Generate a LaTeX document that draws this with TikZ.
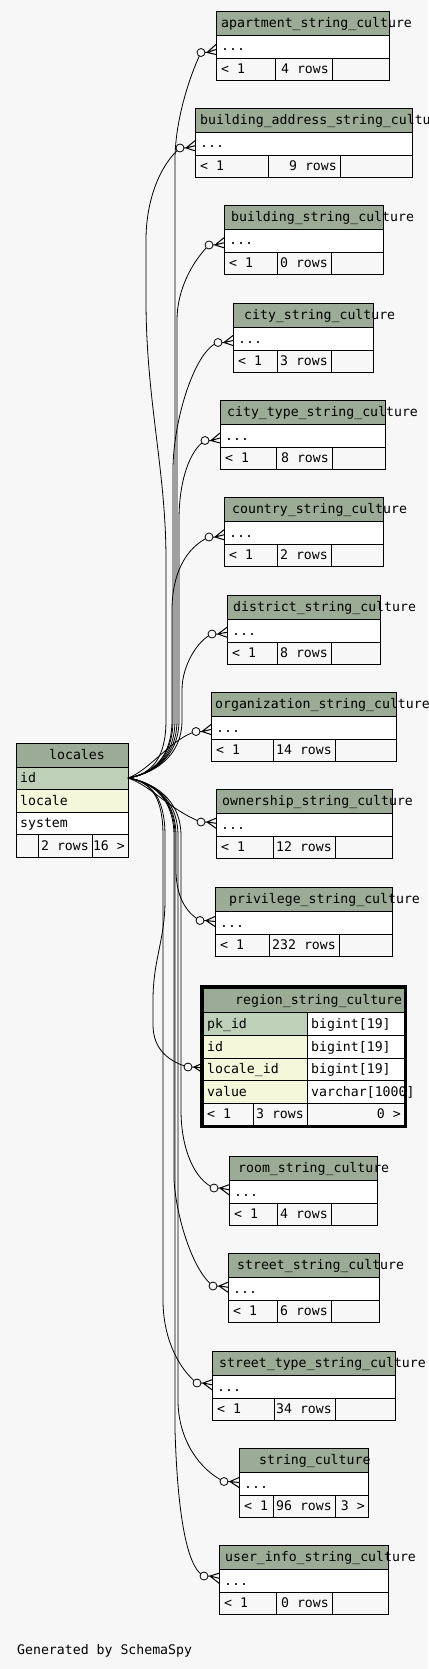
\documentclass[tikz,border=0pt]{standalone}
\usepackage{fontspec}
\setmonofont{DejaVu Sans Mono}
\usetikzlibrary{fit}
\definecolor{hdrc}{HTML}{9BAB96}
\definecolor{pkc}{HTML}{BED1B8}
\definecolor{ixc}{HTML}{F4F7DA}
\definecolor{bgc}{HTML}{F7F7F7}
\tikzstyle{cell}     = [rectangle, draw=black, line width=0.9pt, inner sep=0pt, outer sep=0pt, anchor=north west]
\tikzstyle{hdr}      = [cell, fill=hdrc, minimum height=24pt]
\tikzstyle{body}     = [cell, fill=white, minimum height=23pt]
\tikzstyle{pkrow}    = [cell, fill=pkc, minimum height=23pt]
\tikzstyle{ixrow}    = [cell, fill=ixc, minimum height=23pt]
\tikzstyle{footcell} = [cell, fill=bgc, minimum height=22pt]
\tikzstyle{lbl}      = [font=\ttfamily\fontsize{13.2}{14}\selectfont, inner sep=0pt, text height=10pt, text depth=1pt, anchor=west]
\tikzstyle{rlbl}     = [lbl, anchor=east]
\tikzstyle{link}     = [line width=0.8pt]
\tikzstyle{crowline} = [line width=1pt]
\tikzstyle{ring}     = [line width=0.8pt, fill=bgc]

% table shown with its name only: id, left, top, right, col1, col2, name x, name, rows
\newcommand{\stub}[9]{%
  \node[hdr, minimum width={(#4-#2)*1pt}] (#1) at (#2,#3) {};
  \node[lbl] (#1-name) at (#7,{#3+12}) {#8};
  \node[body, minimum width={(#4-#2)*1pt}] (#1-r) at (#2,{#3+24}) {};
  \node[lbl] (#1-dots) at ({#2+5},{#3+35.5}) {...};
  \node[footcell, minimum width={(#5-#2)*1pt}] (#1-f1) at (#2,{#3+47}) {};
  \node[footcell, minimum width={(#6-#5)*1pt}] (#1-f2) at (#5,{#3+47}) {};
  \node[footcell, minimum width={(#4-#6)*1pt}] (#1-f3) at (#6,{#3+47}) {};
  \node[lbl] (#1-prev) at ({#2+5},{#3+58}) {< 1};
  \node[rlbl] (#1-rows) at ({#6-3},{#3+58}) {#9};
}
% crow's foot at a row: row node, shift of the ring
\newcommand{\crow}[2]{%
  \coordinate (#1-o) at ([shift={(-15,#2)}]#1.west);
  \draw[crowline] (#1-o) -- ++(6,0) coordinate (#1-v)
    (#1-v) -- ([shift={(0,#2/2-5)}]#1.west)
    (#1-v) -- ([shift={(0,#2/2)}]#1.west)
    (#1-v) -- ([shift={(0,#2/2+5)}]#1.west);
}

\begin{document}
\begin{tikzpicture}[x=1pt, y=-1pt]
\fill[bgc] (0,0) rectangle (428,1669);
\useasboundingbox (0,0) rectangle (428,1669);

% tables pointing at locales
\stub{apt}{216}{11}{389}{275}{332}{221}{apartment\_string\_culture}{4 rows}
\stub{bad}{195}{108}{412}{268}{340}{200}{building\_address\_string\_culture}{9 rows}
\stub{bld}{224}{205}{383}{277}{331}{231}{building\_string\_culture}{0 rows}
\stub{cty}{233}{303}{373}{277}{331}{244}{city\_string\_culture}{3 rows}
\stub{cttp}{220}{400}{385}{276}{332}{227}{city\_type\_string\_culture}{8 rows}
\stub{cntr}{224}{497}{383}{277}{331}{232}{country\_string\_culture}{2 rows}
\stub{dist}{227}{595}{380}{277}{331}{233}{district\_string\_culture}{8 rows}
\stub{org}{211}{692}{396}{273}{335}{215}{organization\_string\_culture}{14 rows}
\stub{own}{216}{789}{392}{273}{335}{222}{ownership\_string\_culture}{12 rows}
\stub{priv}{215}{887}{392}{269}{339}{229}{privilege\_string\_culture}{232 rows}
\stub{room}{229}{1156}{377}{277}{331}{238}{room\_string\_culture}{4 rows}
\stub{str}{228}{1253}{379}{277}{331}{237}{street\_string\_culture}{6 rows}
\stub{sttp}{212}{1351}{395}{274}{335}{219}{street\_type\_string\_culture}{34 rows}
\stub{sc}{239}{1448}{368}{273}{335}{259}{string\_culture}{96 rows}
\node[rlbl] (sc-next) at (365,1506) {3 >};
\stub{usr}{219}{1545}{388}{276}{332}{225}{user\_info\_string\_culture}{0 rows}

% locales
\node[hdr, minimum width=112pt] (loc) at (16,743) {};
\node[lbl] (loc-name) at (49,755) {locales};
\node[pkrow, minimum width=112pt, minimum height=22pt] (loc-id) at (16,767) {};
\node[lbl] (loc-id-t) at (20,778) {id};
\node[ixrow, minimum width=112pt] (loc-locale) at (16,789) {};
\node[lbl] (loc-locale-t) at (20,800.5) {locale};
\node[body, minimum width=112pt, minimum height=22pt] (loc-system) at (16,812) {};
\node[lbl] (loc-system-t) at (20,823) {system};
\node[footcell, minimum width=22pt, minimum height=23pt] (loc-f1) at (16,834) {};
\node[footcell, minimum width=54pt, minimum height=23pt] (loc-f2) at (38,834) {};
\node[footcell, minimum width=36pt, minimum height=23pt] (loc-f3) at (92,834) {};
\node[rlbl] (loc-rows) at (89,845.5) {2 rows};
\node[rlbl] (loc-next) at (125,845.5) {16 >};

% region_string_culture, shown in full
\node[hdr, minimum width=201pt] (reg) at (203,988) {};
\node[lbl] (reg-name) at (235,1000) {region\_string\_culture};
\node[pkrow, minimum width=104pt] (reg-pk) at (203,1012) {};
\node[body, minimum width=97pt] (reg-pk-t) at (307,1012) {};
\node[ixrow, minimum width=104pt] (reg-id) at (203,1035) {};
\node[body, minimum width=97pt] (reg-id-t) at (307,1035) {};
\node[ixrow, minimum width=104pt, minimum height=22pt] (reg-loc) at (203,1058) {};
\node[body, minimum width=97pt, minimum height=22pt] (reg-loc-t) at (307,1058) {};
\node[ixrow, minimum width=104pt] (reg-val) at (203,1080) {};
\node[body, minimum width=97pt] (reg-val-t) at (307,1080) {};
\node[footcell, minimum width=50pt] (reg-f1) at (203,1103) {};
\node[footcell, minimum width=54pt] (reg-f2) at (253,1103) {};
\node[footcell, minimum width=97pt] (reg-f3) at (307,1103) {};
\node[lbl] at (207,1023.5) {pk\_id};
\node[lbl] at (311,1023.5) {bigint[19]};
\node[lbl] at (207,1046.5) {id};
\node[lbl] at (311,1046.5) {bigint[19]};
\node[lbl] at (207,1069) {locale\_id};
\node[lbl] at (311,1069) {bigint[19]};
\node[lbl] at (207,1091.5) {value};
\node[lbl] at (311,1091.5) {varchar[1000]};
\node[lbl] at (207,1114) {< 1};
\node[rlbl] at (304,1114) {3 rows};
\node[rlbl] at (401,1114) {0 >};
\node[fit=(reg)(reg-f3), draw, line width=3pt, inner sep=1.5pt] (reg-frame) {};

\node[lbl] (credit) at (17,1650) {Generated by SchemaSpy};

% crow's feet
\crow{apt-r}{6}
\crow{bad-r}{4.5}
\crow{bld-r}{4.5}
\crow{cty-r}{4}
\crow{cttp-r}{5}
\crow{cntr-r}{4.5}
\crow{dist-r}{3.5}
\crow{org-r}{4}
\crow{own-r}{-2.5}
\crow{priv-r}{-2}
\crow{reg-loc}{-2}
\crow{room-r}{-3.5}
\crow{str-r}{-2.5}
\crow{sttp-r}{-3.5}
\crow{sc-r}{-2}
\crow{usr-r}{-4.5}

% links from locales.id
\draw[link] (loc-id.east) .. controls (152,774) and (175,758) .. (175,720) -- (175,160) .. controls (175,120) and (190,75) .. (apt-r-o);
\draw[link] (loc-id.east) .. controls (152,774) and (166,758) .. (166,720) -- (166,560) .. controls (166,470) and (146,400) .. (146,300) -- (146,240) .. controls (146,200) and (160,165) .. (bad-r-o);
\draw[link] (loc-id.east) .. controls (152,774) and (177,758) .. (177,720) -- (177,320) .. controls (177,290) and (192,262) .. (bld-r-o);
\draw[link] (loc-id.east) .. controls (152,774) and (173,758) .. (173,720) -- (173,470) .. controls (173,420) and (195,350) .. (cty-r-o);
\draw[link] (loc-id.east) .. controls (152,774) and (179,758) .. (179,720) -- (179,520) .. controls (179,480) and (190,450) .. (cttp-r-o);
\draw[link] (loc-id.east) .. controls (152,774) and (172,758) .. (172,720) -- (172,610) .. controls (172,575) and (185,548) .. (cntr-r-o);
\draw[link] (loc-id.east) .. controls (152,774) and (182,758) .. (182,720) -- (182,690) .. controls (182,665) and (198,640) .. (dist-r-o);
\draw[link] (loc-id.east) .. controls (150,770) and (172,738) .. (org-r-o);
\draw[link] (loc-id.east) .. controls (150,785) and (170,810) .. (own-r-o);
\draw[link] (loc-id.east) .. controls (152,782) and (176,798) .. (176,836) -- (176,870) .. controls (176,895) and (185,912) .. (priv-r-o);
\draw[link] (loc-id.east) .. controls (152,782) and (165,798) .. (165,836) -- (165,900) .. controls (165,940) and (153,960) .. (153,1000) -- (153,1025) .. controls (153,1050) and (170,1062) .. (reg-loc-o);
\draw[link] (loc-id.east) .. controls (152,782) and (181,798) .. (181,836) -- (181,1110) .. controls (181,1150) and (195,1180) .. (room-r-o);
\draw[link] (loc-id.east) .. controls (152,782) and (174,798) .. (174,836) -- (174,1180) .. controls (176,1215) and (192,1270) .. (str-r-o);
\draw[link] (loc-id.east) .. controls (152,782) and (163,798) .. (163,836) -- (163,1300) .. controls (163,1340) and (180,1370) .. (sttp-r-o);
\draw[link] (loc-id.east) .. controls (152,782) and (178,798) .. (178,836) -- (178,1400) .. controls (178,1440) and (200,1470) .. (sc-r-o);
\draw[link] (loc-id.east) .. controls (152,782) and (175,798) .. (175,836) -- (175,1430) .. controls (178,1530) and (190,1570) .. (usr-r-o);

% rings over the link ends
\foreach \t in {apt-r, bad-r, bld-r, cty-r, cttp-r, cntr-r, dist-r, org-r, own-r, priv-r, reg-loc, room-r, str-r, sttp-r, sc-r, usr-r}
  \draw[ring] (\t-o) circle[radius=4];
\end{tikzpicture}
\end{document}
